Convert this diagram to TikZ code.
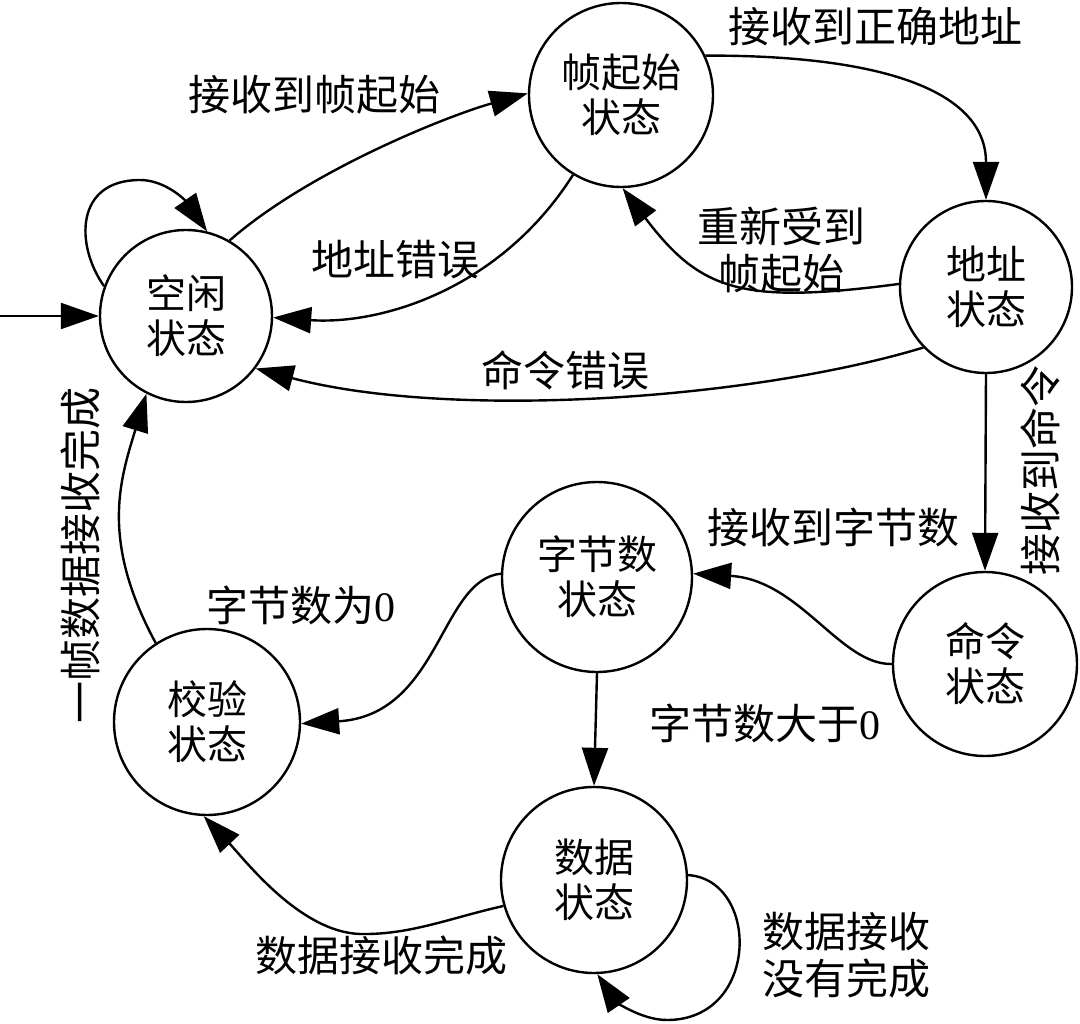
\documentclass[tikz,border=0pt]{standalone}
\usepackage{fontspec}
\setmainfont{Liberation Serif}
\newfontfamily\cjk{Noto Sans CJK SC}
\usetikzlibrary{arrows.meta}
\begin{document}
\begin{tikzpicture}[x=1pt,y=-1pt,
  state/.style={circle,draw,line width=2.4pt,inner sep=0pt,align=center,font=\cjk\fontsize{40}{45}\selectfont},
  lbl/.style={inner sep=0pt,align=center,font=\cjk\fontsize{42}{47}\selectfont},
  arr/.style={line width=2.4pt,-{Triangle[length=38pt,width=26pt]}}]
\useasboundingbox (0,0) rectangle (1080,1024);

\node[state,minimum size=172pt] (idle) at (186,316) {空闲\\状态};
\node[state,minimum size=184pt] (frame) at (621,95) {帧起始\\状态};
\node[state,minimum size=172pt] (addr) at (986,287) {地址\\状态};
\node[state,minimum size=184pt] (cmd) at (985,664) {命令\\状态};
\node[state,minimum size=190pt] (bytes) at (597,577) {字节数\\状态};
\node[state,minimum size=186pt] (check) at (207,722) {校验\\状态};
\node[state,minimum size=186pt] (data) at (594,880) {数据\\状态};

\coordinate (in) at (0,316);
\draw[arr] (in) -- (idle.west);
\draw[arr] (idle.160) .. controls (75,245) and (75,180) .. (140,180) .. controls (165,180) and (185,200) .. (idle.76);
\draw[arr] (idle.60) .. controls (310,170) and (450,115) .. (frame.179);
\draw[arr] (frame.-121) .. controls (500,290) and (380,325) .. (idle.-1);
\draw[arr] (frame.25) .. controls (880,55) and (986,90) .. (addr.north);
\draw[arr] (addr.178) .. controls (740,305) and (700,290) .. (frame.-89);
\draw[arr] (addr.-136) .. controls (750,400) and (450,420) .. (idle.-37);
\draw[arr] (addr.south) -- (cmd.north);
\draw[arr] (cmd.180) .. controls (840,665) and (800,580) .. (bytes.2);
\draw[arr] (bytes.178) .. controls (440,580) and (440,715) .. (check.-1);
\draw[arr] (bytes.south) -- (data.north);
\draw[arr] (data.-164) .. controls (450,918) and (410,935) .. (360,934) .. controls (300,932) and (245,860) .. (check.-92);
\draw[arr] (data.3) .. controls (760,880) and (760,1020) .. (667,1020) .. controls (640,1020) and (615,1000) .. (data.-88);
\draw[arr] (check.123) .. controls (100,540) and (120,480) .. (idle.-117);

\node[lbl] (l1) at (314,95) {接收到帧起始};
\node[lbl] (l2) at (395,260) {地址错误};
\node[lbl] (l3) at (875,27) {接收到正确地址};
\node[lbl] (l4) at (781,250) {重新受到\\帧起始};
\node[lbl] (l5) at (565,370) {命令错误};
\node[lbl,rotate=90] (l6) at (1040,470) {接收到命令};
\node[lbl] (l7) at (833,527) {接收到字节数};
\node[lbl] (l8) at (301,605) {字节数为\rmfamily 0};
\node[lbl] (l9) at (765,723) {字节数大于\rmfamily 0};
\node[lbl] (l10) at (381,955) {数据接收完成};
\node[lbl] (l11) at (846,955) {数据接收\\没有完成};
\node[lbl,rotate=90] (l12) at (80,555) {一帧数据接收完成};
\end{tikzpicture}
\end{document}
